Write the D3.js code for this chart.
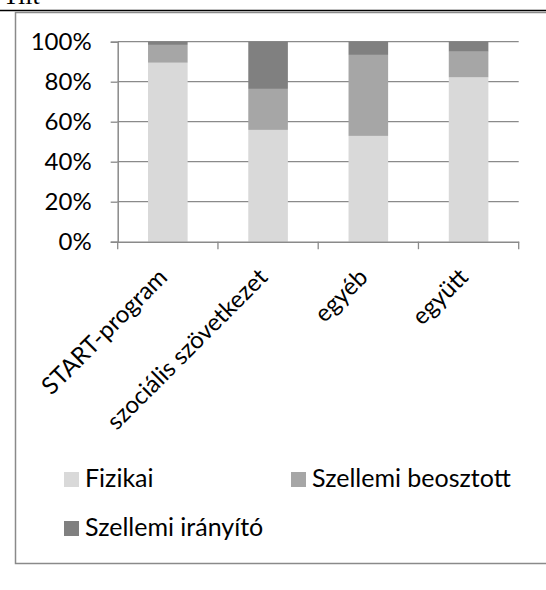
<!DOCTYPE html>
<html>
<head>
<meta charset="utf-8">
<script src="https://cdn.jsdelivr.net/npm/d3@7"></script>
<style>
  body { margin: 0; background: #fff; }
  text { font-family: Lato, "Open Sans", sans-serif; fill: #000; }
</style>
</head>
<body>
<div id="vis1"></div>
<script>
// frame size
const FRAME_WIDTH = 546;
const FRAME_HEIGHT = 590;
const PLOT = {left: 117.7, right: 518.7, top: 41.7, bottom: 241.7};

// data (percent)
const categories = ["START-program", "szociális szövetkezet", "egyéb", "együtt"];
const seriesNames = ["Fizikai", "Szellemi beosztott", "Szellemi irányító"];
const fizikai = [89.5, 55.9, 52.9, 82.2];
const beosztott = [8.9, 20.5, 40.5, 12.8];
const iranyito = [1.6, 23.6, 6.6, 5.0];
const yTicks = [0, 20, 40, 60, 80, 100];
const colors = ["#d9d9d9", "#a6a6a6", "#808080"];

const rows = categories.map((c, i) => ({
  cat: c,
  "Fizikai": fizikai[i],
  "Szellemi beosztott": beosztott[i],
  "Szellemi irányító": iranyito[i]
}));

const FRAME = d3.select("#vis1")
  .append("svg")
    .attr("width", FRAME_WIDTH)
    .attr("height", FRAME_HEIGHT);

// cut-off text and rule above the chart (cut in the reference too)
FRAME.append("text")
  .attr("x", 3)
  .attr("y", 4)
  .style("font-family", "'Liberation Serif', serif")
  .style("font-size", "26px")
  .text("Tilt");

FRAME.append("line")
  .attr("x1", 0).attr("x2", FRAME_WIDTH)
  .attr("y1", 10.5).attr("y2", 10.5)
  .attr("stroke", "#000")
  .attr("stroke-width", 1.6);

// chart border
FRAME.append("rect")
  .attr("x", 15.5).attr("y", 12.5)
  .attr("width", 560).attr("height", 551)
  .attr("fill", "none")
  .attr("stroke", "#8a8a8a")
  .attr("stroke-width", 1.5);

const X_SCALE = d3.scaleBand()
  .domain(categories)
  .range([PLOT.left, PLOT.right]);

const Y_SCALE = d3.scaleLinear()
  .domain([0, 100])
  .range([PLOT.bottom, PLOT.top]);

// gridlines
FRAME.append("g")
  .selectAll("line")
  .data(yTicks.slice(1))
  .enter()
  .append("line")
    .attr("x1", PLOT.left).attr("x2", PLOT.right)
    .attr("y1", d => Y_SCALE(d)).attr("y2", d => Y_SCALE(d))
    .attr("stroke", "#8a8a8a")
    .attr("stroke-width", 1.3);

// stacked bars
const stack = d3.stack().keys(seriesNames)(rows);
const barW = X_SCALE.bandwidth() * 0.395;

FRAME.append("g")
  .selectAll("g")
  .data(stack)
  .enter()
  .append("g")
    .attr("fill", (d, i) => colors[i])
  .selectAll("rect")
  .data(d => d)
  .enter()
  .append("rect")
    .attr("x", d => X_SCALE(d.data.cat) + (X_SCALE.bandwidth() - barW) / 2)
    .attr("y", d => Y_SCALE(d[1]))
    .attr("width", barW)
    .attr("height", d => Y_SCALE(d[0]) - Y_SCALE(d[1]));

// y axis
const yAxis = FRAME.append("g")
  .attr("transform", `translate(${PLOT.left},0)`)
  .call(d3.axisLeft(Y_SCALE).tickValues(yTicks).tickSize(7).tickPadding(19)
    .tickFormat(d => d + "%"));
yAxis.select(".domain").attr("stroke", "#8a8a8a").attr("stroke-width", 1.5);
yAxis.selectAll(".tick line").attr("stroke", "#8a8a8a").attr("stroke-width", 1.3);
yAxis.selectAll(".tick text")
  .style("font-family", "Lato, sans-serif")
  .style("font-size", "24px")
  .attr("fill", "#000");

// x axis
const xAxis = FRAME.append("g")
  .attr("transform", `translate(0,${PLOT.bottom})`)
  .call(d3.axisBottom(X_SCALE).tickSize(0).tickFormat(""));
xAxis.select(".domain").attr("stroke", "#8a8a8a").attr("stroke-width", 1.5);

// x tick marks between categories
const xEdges = categories.map(c => X_SCALE(c)).concat([PLOT.right]);
FRAME.append("g")
  .selectAll("line")
  .data(xEdges)
  .enter()
  .append("line")
    .attr("x1", d => d).attr("x2", d => d)
    .attr("y1", PLOT.bottom).attr("y2", PLOT.bottom + 7.5)
    .attr("stroke", "#8a8a8a")
    .attr("stroke-width", 1.3);

// rotated category labels
FRAME.append("g")
  .selectAll("text")
  .data(categories)
  .enter()
  .append("text")
    .attr("transform", d => `translate(${X_SCALE(d) + X_SCALE.bandwidth() / 2 + 1},${PLOT.bottom + 37}) rotate(-45)`)
    .attr("text-anchor", "end")
    .style("font-size", "24px")
    .text(d => d);

// legend
const legendPos = [{x: 64, y: 472}, {x: 291, y: 472}, {x: 64, y: 521}];
const legend = FRAME.append("g")
  .selectAll("g")
  .data(seriesNames)
  .enter()
  .append("g")
    .attr("transform", (d, i) => `translate(${legendPos[i].x},${legendPos[i].y})`);

legend.append("rect")
  .attr("width", 15).attr("height", 15)
  .attr("fill", (d, i) => colors[i]);

legend.append("text")
  .attr("x", 21)
  .attr("y", 15)
  .style("font-size", "25px")
  .text(d => d);
</script>
</body>
</html>
